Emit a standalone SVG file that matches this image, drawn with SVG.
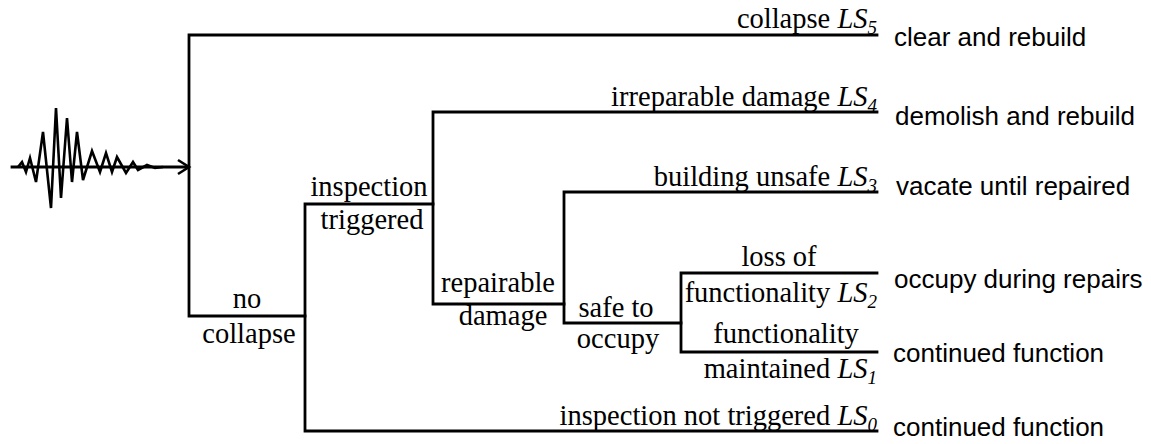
<svg xmlns="http://www.w3.org/2000/svg" width="1151" height="444" viewBox="0 0 1151 444">
<style>
.ln{fill:none;stroke:#000;stroke-width:2.8;stroke-linecap:square}
.wv{fill:none;stroke:#000;stroke-width:2.6;stroke-linejoin:miter}
.s{font-family:"Liberation Serif","Times New Roman",serif;font-size:28.5px;fill:#000}
.e{text-anchor:end}
.m{text-anchor:middle}
.i{font-style:italic}
.sub{font-style:italic;font-size:19px}
.o{font-family:"Liberation Sans",Arial,sans-serif;font-size:26px;fill:#000}
</style>
<rect width="1151" height="444" fill="#fff"/>
<g id="connectors">
<path class="ln" d="M189,35 V316 M189,35 H877 M189,316 H305"/>
<path class="ln" d="M305,204 V431 M305,204 H433 M305,431 H877"/>
<path class="ln" d="M433,112 V304 M433,112 H877 M433,304 H564"/>
<path class="ln" d="M564,192 V323 M564,192 H877 M564,323 H681"/>
<path class="ln" d="M681,273 V352 M681,273 H877 M681,352 H877"/>
</g>
<g id="earthquake">
<path class="ln" d="M12,167 H188"/>
<path class="wv" d="M18,167 L22,162 L26,172 L30,158 L36,182 L43,132 L51,208 L56,108 L61,198 L67,118 L72,182 L77,132 L83,180 L92,151 L100,172 L106,153 L112,172 L117,157 L126,173 L133,162 L138,170 L147,165 L155,168 L163,167"/>
<path class="wv" d="M178,160 L189,167 L178,174"/>
</g>
<g id="n-collapse">
<text class="s e" x="877" y="28">collapse <tspan class="i">LS</tspan><tspan class="sub" dy="6">5</tspan></text>
<text class="o" x="894" y="46">clear and rebuild</text>
</g>
<g id="n-no-collapse">
<text class="s m" x="247" y="308">no</text>
<text class="s m" x="249" y="343">collapse</text>
</g>
<g id="n-inspection-triggered">
<text class="s m" x="369" y="196">inspection</text>
<text class="s m" x="372" y="229">triggered</text>
</g>
<g id="n-irreparable">
<text class="s e" x="877" y="106">irreparable damage <tspan class="i">LS</tspan><tspan class="sub" dy="6">4</tspan></text>
<text class="o" x="895" y="125">demolish and rebuild</text>
</g>
<g id="n-repairable">
<text class="s m" x="498" y="292">repairable</text>
<text class="s m" x="503" y="325">damage</text>
</g>
<g id="n-unsafe">
<text class="s e" x="877" y="186">building unsafe <tspan class="i">LS</tspan><tspan class="sub" dy="6">3</tspan></text>
<text class="o" x="896" y="195">vacate until repaired</text>
</g>
<g id="n-safe">
<text class="s m" x="616" y="317">safe to</text>
<text class="s m" x="618" y="348">occupy</text>
</g>
<g id="n-loss">
<text class="s m" x="779" y="266">loss of</text>
<text class="s e" x="877" y="302">functionality <tspan class="i">LS</tspan><tspan class="sub" dy="6">2</tspan></text>
<text class="o" x="894" y="288">occupy during repairs</text>
</g>
<g id="n-maintained">
<text class="s m" x="786" y="343">functionality</text>
<text class="s e" x="877" y="378">maintained <tspan class="i">LS</tspan><tspan class="sub" dy="6">1</tspan></text>
<text class="o" x="893" y="362">continued function</text>
</g>
<g id="n-not-triggered">
<text class="s e" x="877" y="425">inspection not triggered <tspan class="i">LS</tspan><tspan class="sub" dy="6">0</tspan></text>
<text class="o" x="893" y="436">continued function</text>
</g>
</svg>
